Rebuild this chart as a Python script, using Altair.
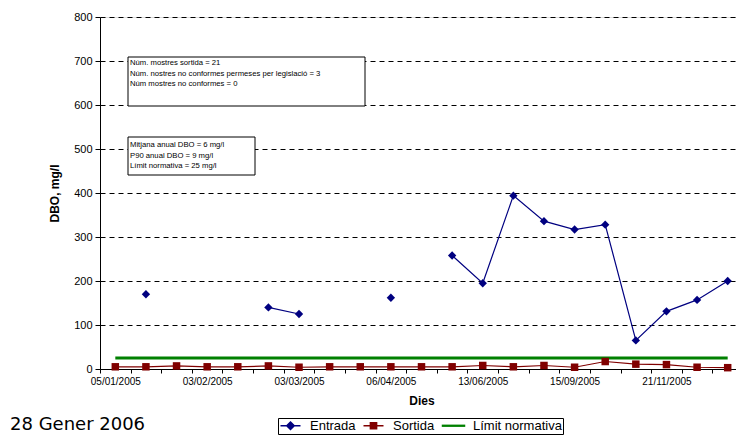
import json
import altair as alt
import pandas as pd

# ---- data ----
cat_index = list(range(21))
tick_labels = ["05/01/2005", "03/02/2005", "03/03/2005", "06/04/2005",
               "13/06/2005", "15/09/2005", "21/11/2005"]
label_step = 3
entrada = [None, 170, None, None, None, 140, 125, None, None, 162, None,
           258, 195, 394, 336, 317, 328, 65, 131, 157, 200]
sortida = [5, 5, 7, 5, 5, 7, 4, 5, 5, 5, 5, 5, 8, 5, 8, 4, 17, 11, 10, 4, 3]
limit = [25, 25, 25, 25, 25, 25, 25, 25, 25, 25, 25,
         25, 25, 25, 25, 25, 25, 25, 25, 25, 25]
series = ["Entrada", "Sortida", "Límit normativa"]
colors = ["#000080", "#800000", "#008000"]
legend_paths = ["M-2,0H2M0,-0.75L0.75,0L0,0.75L-0.75,0Z",
                "M-2,0H2M-0.62,-0.62H0.62V0.62H-0.62Z",
                "M-2.2,-0.08H2.2V0.08H-2.2Z"]
box1_lines = ["Núm. mostres sortida = 21",
              "Núm. nostres no conformes permeses per legislació = 3",
              "Núm mostres no conformes = 0"]
box2_lines = ["Mitjana anual DBO = 6 mg/l",
              "P90 anual DBO = 9 mg/l",
              "Límit normativa = 25 mg/l"]
date_text = "28 Gener 2006"

rows = []
for name, vals in zip(series, [entrada, sortida, limit]):
    for i, v in zip(cat_index, vals):
        rows.append({"idx": i, "serie": name, "value": v})
df = pd.DataFrame(rows)

FONT = "Liberation Sans"
W, H = 643, 352

label_expr = (f"datum.value % {label_step} == 0 ? "
              f"{json.dumps(tick_labels)}[datum.value / {label_step}] : ''")

x_enc = alt.X("idx:O",
              scale=alt.Scale(type="band", paddingInner=0, paddingOuter=0),
              axis=alt.Axis(title="Dies", labelAngle=0, labelExpr=label_expr,
                            labelOverlap=False, tickBand="extent", tickSize=4,
                            labelFontSize=10, labelPadding=3, grid=False,
                            domainColor="black", tickColor="black",
                            labelColor="black", titleFontSize=12,
                            titleFontWeight="bold", titlePadding=9,
                            titleColor="black"))
y_enc = alt.Y("value:Q",
              scale=alt.Scale(domain=[0, 800], nice=False),
              axis=alt.Axis(title="DBO, mg/l", values=list(range(0, 801, 100)),
                            grid=True, gridColor="black", gridDash=[5, 4],
                            gridWidth=1, domainColor="black", tickColor="black",
                            tickSize=5, labelFontSize=11, labelColor="black",
                            labelPadding=3, titleFontSize=12,
                            titleFontWeight="bold", titlePadding=12,
                            titleColor="black"))

base = alt.Chart(df).encode(x=x_enc, y=y_enc)

limit_line = base.transform_filter("datum.serie == 'Límit normativa'").mark_line(
    color="#008000", strokeWidth=3)
sort_line = base.transform_filter("datum.serie == 'Sortida'").mark_line(
    color="#800000", strokeWidth=1.2)
sort_pts = base.transform_filter("datum.serie == 'Sortida'").mark_point(
    shape="square", filled=True, size=56, color="#800000", opacity=1)
ent_line = base.transform_filter("datum.serie == 'Entrada'").mark_line(
    color="#000080", strokeWidth=1.2, invalid="break-paths-show-domains")
ent_pts = base.transform_filter("datum.serie == 'Entrada'").mark_point(
    shape="diamond", filled=True, size=70, color="#000080", opacity=1)

leg = alt.Legend(title=None, orient="none", legendX=178, legendY=401,
                 direction="horizontal", strokeColor="black", fillColor="white",
                 padding=1, labelFontSize=13, labelFont=FONT,
                 labelColor="black", symbolSize=100, symbolOffset=5,
                 labelOffset=13, columnPadding=4, symbolOpacity=1,
                 symbolStrokeWidth=1.5, cornerRadius=0)

legend_layer = base.transform_filter("isValid(datum.value)").mark_point(
    opacity=0).encode(
    fill=alt.Fill("serie:N", scale=alt.Scale(domain=series, range=colors), legend=leg),
    stroke=alt.Stroke("serie:N", scale=alt.Scale(domain=series, range=colors), legend=leg),
    shape=alt.Shape("serie:N", scale=alt.Scale(domain=series, range=legend_paths), legend=leg))

one = pd.DataFrame({"k": [0]})
box1 = alt.Chart(one).mark_rect(fill="white", stroke="black", strokeWidth=1).encode(
    x=alt.value(28), x2=alt.value(265), y=alt.value(40), y2=alt.value(89))
box2 = alt.Chart(one).mark_rect(fill="white", stroke="black", strokeWidth=1).encode(
    x=alt.value(28), x2=alt.value(155), y=alt.value(120), y2=alt.value(158))
txt1 = alt.Chart(one).mark_text(align="left", baseline="alphabetic", fontSize=7.7,
                                lineHeight=10.7, font=FONT, color="black",
                                text=box1_lines).encode(
    x=alt.value(30), y=alt.value(48))
txt2 = alt.Chart(one).mark_text(align="left", baseline="alphabetic", fontSize=7.7,
                                lineHeight=10.7, font=FONT, color="black",
                                text=box2_lines).encode(
    x=alt.value(30), y=alt.value(130))
date_mark = alt.Chart(one).mark_text(align="left", baseline="alphabetic",
                                     fontSize=18, font="DejaVu Sans",
                                     color="black", text=date_text).encode(
    x=alt.value(-90), y=alt.value(413))

chart = alt.layer(box1, box2, txt1, txt2, limit_line, sort_line, sort_pts,
                  ent_line, ent_pts, legend_layer, date_mark).properties(
    width=W, height=H,
    padding={"left": 92, "top": 9, "right": -7, "bottom": 66},
    autosize=alt.AutoSizeParams(type="none"),
    background="white",
).configure_view(stroke="#808080", strokeWidth=1).configure(font=FONT)

chart.save("out.html", embed_options={"renderer": "svg", "actions": False})
